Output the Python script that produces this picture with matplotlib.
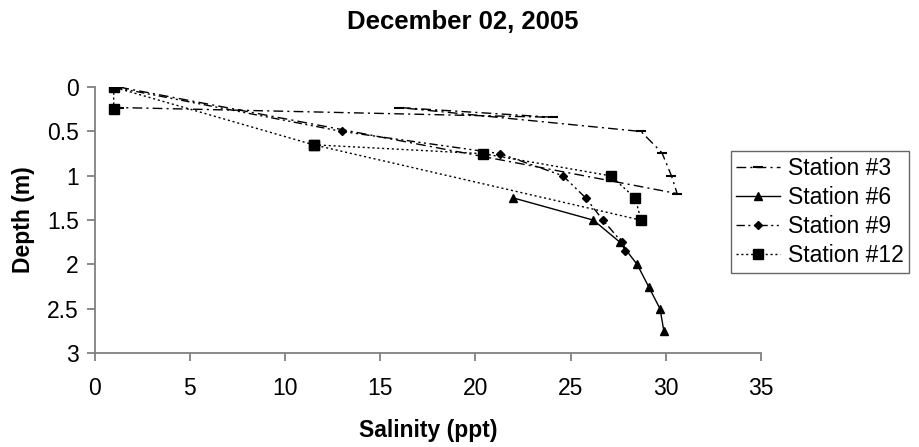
import numpy as np
import matplotlib.pyplot as plt

plt.rcParams['font.family'] = ['Liberation Sans', 'DejaVu Sans']

# salinity (ppt) and depth (m) per station, in the order they were logged
sal_st3 = [1.3, 30.6, 30.3, 29.8, 28.7, 16.0, 24.1, 1.3]
dep_st3 = [0.0, 1.2, 1.0, 0.74, 0.5, 0.23, 0.34, 0.23]

sal_st6 = [22.0, 26.2, 27.6, 28.5, 29.1, 29.7, 29.9]
dep_st6 = [1.25, 1.5, 1.75, 2.0, 2.25, 2.5, 2.75]

sal_st9 = [1.0, 13.0, 21.3, 24.6, 25.8, 26.7, 27.7, 27.85]
dep_st9 = [0.0, 0.5, 0.75, 1.0, 1.25, 1.5, 1.75, 1.85]

sal_st12 = [1.0, 1.0, 11.5, 28.7, 28.4, 27.1, 20.4, 11.5]
dep_st12 = [0.25, 0.0, 0.65, 1.5, 1.25, 1.0, 0.75, 0.65]

labels = ['Station #3', 'Station #6', 'Station #9', 'Station #12']
xticks = np.arange(0, 36, 5)
yticks = [0, 0.5, 1, 1.5, 2, 2.5, 3]

fig = plt.figure(figsize=(9.19, 4.47), dpi=100)
ax = fig.add_axes([0.103, 0.21, 0.725, 0.595])

ax.plot(sal_st3, dep_st3, color='black', lw=1, ls=(0, (7, 3, 1.5, 3)),
        marker='_', ms=7, mew=1.5, label=labels[0])
ax.plot(sal_st6, dep_st6, color='black', lw=1, ls='-',
        marker='^', ms=5.5, label=labels[1])
ax.plot(sal_st9, dep_st9, color='black', lw=1, ls=(0, (6, 2.5, 1.5, 2.5, 1.5, 2.5)),
        marker='D', ms=4.5, label=labels[2])
ax.plot(sal_st12, dep_st12, color='black', lw=1, ls=(0, (1.5, 2)),
        marker='s', ms=7.5, label=labels[3])

ax.set_xlim(0, 35)
ax.set_ylim(3, 0)
ax.set_xticks(xticks)
ax.set_yticks(yticks)
ax.set_yticklabels(['%g' % v for v in yticks])

for s in ['top', 'right']:
    ax.spines[s].set_visible(False)
for s in ['left', 'bottom']:
    ax.spines[s].set_color('#808080')
    ax.spines[s].set_linewidth(1.3)
ax.tick_params(axis='both', direction='out', length=5.5, width=1.3, color='#808080',
               labelsize=16.5)
ax.tick_params(axis='x', pad=12)
ax.tick_params(axis='y', pad=6)

fig.text(0.503, 0.95, 'December 02, 2005', ha='center', va='center',
         fontsize=18.5, fontweight='bold')
fig.text(0.466, 0.038, 'Salinity (ppt)', ha='center', va='center',
         fontsize=16.5, fontweight='bold')
fig.text(0.026, 0.508, 'Depth (m)', ha='center', va='center', rotation=90,
         fontsize=16.5, fontweight='bold')

leg = ax.legend(loc='upper left', bbox_to_anchor=(0.795, 0.662),
                bbox_transform=fig.transFigure, fontsize=16.5, frameon=True,
                fancybox=False, edgecolor='#404040', handlelength=1.9,
                handletextpad=0.35, labelspacing=0.27, borderpad=0.25,
                borderaxespad=0)
leg.get_frame().set_linewidth(1.0)

plt.savefig('out.png', dpi=100)
